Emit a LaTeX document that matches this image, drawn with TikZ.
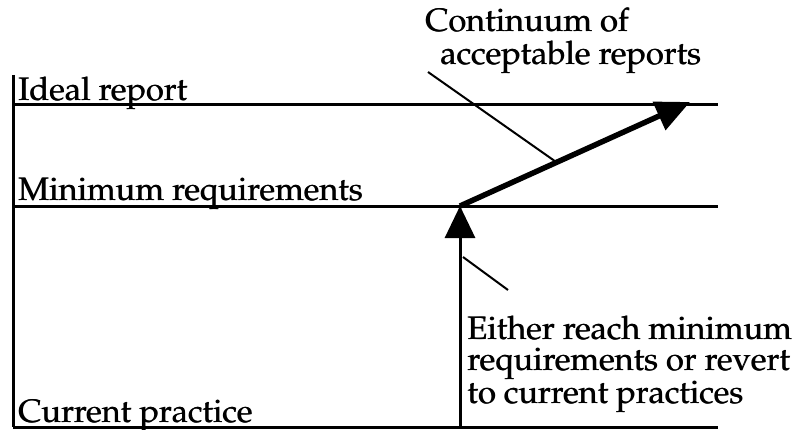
\documentclass[tikz,border=0pt]{standalone}
\usepackage[T1]{fontenc}
\usepackage{mathpazo}
\usetikzlibrary{arrows.meta,calc}
% a slightly heavier face: the text set twice, a hair apart
\newcommand{\heavy}[1]{\leavevmode\rlap{\kern0.7pt#1}#1}
\begin{document}
\begin{tikzpicture}[x=1pt,y=-1pt,
  level/.style={line width=3pt},
  axis/.style={line width=3pt},
  rise/.style={line width=3pt,-{Triangle[length=32pt,width=30pt]}},
  slope/.style={line width=5.5pt,-{Triangle[length=34pt,width=30pt]}},
  leader/.style={line width=2pt},
  lbl/.style={inner sep=0pt,anchor=base west,font=\fontsize{32.5}{33}\selectfont},
  note/.style={inner sep=0pt,anchor=base west,align=left,font=\fontsize{32.5}{31}\selectfont}]
  \useasboundingbox (0,0) rectangle (794,430);
  % ends of the three levels and of the vertical axis
  \coordinate (top) at (13,75);
  \coordinate (iL) at (13,105);  \coordinate (iR) at (718,105);
  \coordinate (mL) at (13,207);  \coordinate (mR) at (718,207);
  \coordinate (cL) at (13,427);  \coordinate (cR) at (718,427);
  \coordinate (base) at (460,427);
  \coordinate (fork) at (460,206);
  \coordinate (goal) at (690,102);
  % levels
  \draw[axis] (top) -- (cL);
  \draw[level] (iL) -- (iR);
  \draw[level] (mL) -- (mR);
  \draw[level] (cL) -- (cR);
  % level labels
  \node[lbl] (ideal) at (18,101) {\heavy{Ideal report}};
  \node[lbl] (minimum) at (18,201) {\heavy{Minimum requirements}};
  \node[lbl] (current) at (18,422) {\heavy{Current practice}};
  % arrows
  \draw[rise] (base) -- (fork);
  \draw[slope] (fork) -- (goal);
  % annotations (a multi-line node sits on the baseline of its last line)
  \node[note] (cont) at (425,65) {\heavy{Continuum of}\\[2pt]\hspace*{15pt}\heavy{acceptable reports}};
  \node[note] (either) at (467,403) {\heavy{Either reach minimum}\\\heavy{requirements or revert}\\\heavy{to current practices}};
  \coordinate (c1) at (428,72);
  \coordinate (c2) at ($(fork)!0.42!(goal)$);
  \coordinate (e1) at (463,257);
  \coordinate (e2) at (508,290);
  \draw[leader] (c1) -- (c2);
  \draw[leader] (e1) -- (e2);
\end{tikzpicture}
\end{document}
